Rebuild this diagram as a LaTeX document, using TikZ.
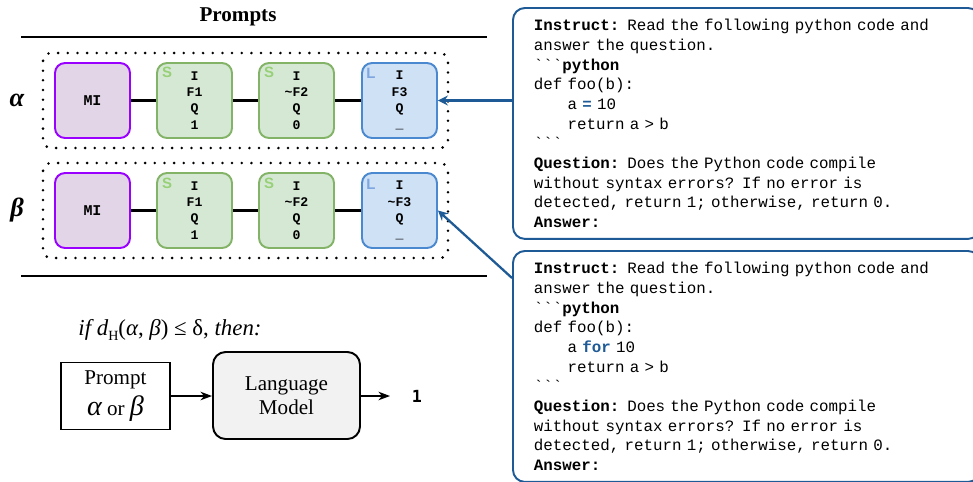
\documentclass[tikz,border=0pt]{standalone}
\usepackage{fontspec}
\setmainfont{Liberation Serif}
\setsansfont{Liberation Sans}
\setmonofont{Liberation Mono}
\newfontfamily\digitfont{DejaVu Sans Mono}
\usetikzlibrary{arrows.meta}
\definecolor{miborder}{RGB}{153,0,255}
\definecolor{mifill}{RGB}{225,213,231}
\definecolor{sborder}{RGB}{130,179,102}
\definecolor{sfill}{RGB}{213,232,212}
\definecolor{lborder}{RGB}{74,137,208}
\definecolor{lfill}{RGB}{207,225,245}
\definecolor{stagc}{RGB}{151,208,119}
\definecolor{ltagc}{RGB}{126,166,224}
\definecolor{codeblue}{RGB}{29,90,150}
\definecolor{lmfill}{RGB}{242,242,242}
\newcommand{\ticks}{\textasciigrave\textasciigrave\textasciigrave}
\newcommand{\ind}{\hphantom{def }}
\begin{document}
\begin{tikzpicture}[x=0.02cm,y=-0.02cm,
	blk/.style={rounded corners=0.2cm,line width=1.1pt,minimum width=1.5cm,minimum height=1.5cm,inner sep=0pt,align=center,font=\fontsize{7.5}{9.2}\selectfont\ttfamily\bfseries},
	mibox/.style={blk,draw=miborder,fill=mifill,font=\fontsize{8.5}{10}\selectfont\ttfamily\bfseries},
	sbox/.style={blk,draw=sborder,fill=sfill},
	lbox/.style={blk,draw=lborder,fill=lfill},
	stag/.style={text=stagc,inner sep=0pt,font=\fontsize{8.5}{9}\selectfont\sffamily\bfseries},
	ltag/.style={stag,text=ltagc},
	frame/.style={line width=1.6pt,dash pattern=on 0pt off 5.5pt,line cap=round,rounded corners=0.16cm},
	link/.style={line width=1.2pt},
	codebox/.style={draw=codeblue,line width=1.1pt,rounded corners=0.24cm,anchor=north west,minimum height=4.62cm,text width=8.5cm,inner xsep=0.42cm,align=left,font=\fontsize{9}{11.2}\selectfont\ttfamily},
	codearrow/.style={draw=codeblue,line width=1.3pt,-{Stealth[length=2mm,width=2mm,inset=0.7mm]}},
	flow/.style={line width=1pt,-{Stealth[length=2.3mm,width=1.7mm,inset=0.7mm]}}]
	\useasboundingbox (0,0) rectangle (973,481);
	\clip (0,0) rectangle (973,481);
	\node[font=\fontsize{12}{14}\selectfont\bfseries] (title) at (238,17) {Prompts};
	\draw[line width=1pt] (21,37) -- (487,37);
	\draw[line width=1pt] (21,276) -- (487,276);
	\draw[frame] (43,53) rectangle (448,148);
	\draw[frame] (43,163) rectangle (448,258);
	\node (alab) at (17,100) {\fontsize{15}{15}\selectfont\bfseries\itshape α};
	\node (blab) at (17,210) {\fontsize{15}{15}\selectfont\bfseries\itshape β};
	\node[mibox] (aMI) at (92.5,100.5) {MI};
	\node[sbox] (aS1) at (194.5,100.5) {I\\F1\\Q\\1};
	\node[sbox] (aS2) at (296.5,100.5) {I\\\textasciitilde F2\\Q\\0};
	\node[lbox] (aL) at (399.5,100.5) {I\\F3\\Q\\\_};
	\node[mibox] (bMI) at (92.5,210.5) {MI};
	\node[sbox] (bS1) at (194.5,210.5) {I\\F1\\Q\\1};
	\node[sbox] (bS2) at (296.5,210.5) {I\\\textasciitilde F2\\Q\\0};
	\node[lbox] (bL) at (399.5,210.5) {I\\\textasciitilde F3\\Q\\\_};
	\node[stag] (aS1t) at (167,72) {S};
	\node[stag] (aS2t) at (269,72) {S};
	\node[ltag] (aLt) at (371,73) {L};
	\node[stag] (bS1t) at (167,183) {S};
	\node[stag] (bS2t) at (269,183) {S};
	\node[ltag] (bLt) at (371,184) {L};
	\draw[link] (aMI) -- (aS1) -- (aS2) -- (aL);
	\draw[link] (bMI) -- (bS1) -- (bS2) -- (bL);
	\node[codebox] (codeA) at (512,7) {\textbf{Instruct:} Read the following python code and\\
		answer the question.\\
		\ticks\textbf{python}\\
		def foo(b):\\
		\ind a \textcolor{codeblue}{\textbf{=}} 10\\
		\ind return a > b\\
		\ticks\\
		\textbf{Question:} Does the Python code compile\\
		without syntax errors? If no error is\\
		detected, return 1; otherwise, return 0.\\
		\textbf{Answer:}};
	\node[codebox] (codeB) at (512,250) {\textbf{Instruct:} Read the following python code and\\
		answer the question.\\
		\ticks\textbf{python}\\
		def foo(b):\\
		\ind a \textcolor{codeblue}{\textbf{for}} 10\\
		\ind return a > b\\
		\ticks\\
		\textbf{Question:} Does the Python code compile\\
		without syntax errors? If no error is\\
		detected, return 1; otherwise, return 0.\\
		\textbf{Answer:}};
	\draw[codearrow] (codeA.west |- aL.east) -- (aL.east);
	\draw[codearrow] ([yshift=-0.56cm]codeB.north west) -- (bL.east);
	\node[font=\fontsize{13}{15}\selectfont] (cond) at (170,330) {\textit{if d}\raisebox{-0.45ex}{\fontsize{8}{8}\selectfont H}(\textit{α}, \textit{β}) ≤ δ, \textit{then:}};
	\node[draw,line width=1pt,minimum width=2.18cm,minimum height=1.34cm,align=center,font=\fontsize{12}{18}\selectfont] (prm) at (115.5,396) {Prompt\\{\fontsize{16}{16}\selectfont\itshape α} or {\fontsize{16}{16}\selectfont\itshape β}};
	\node[draw,fill=lmfill,line width=1.1pt,rounded corners=0.25cm,minimum width=2.94cm,minimum height=1.74cm,align=center,font=\fontsize{12}{14}\selectfont] (lm) at (286.5,395.5) {Language\\Model};
	\coordinate (outp) at (390,396);
	\node[font=\digitfont\bfseries\fontsize{9.5}{10}\selectfont] (one) at (417,396) {1};
	\draw[flow] (prm) -- (prm -| lm.west);
	\draw[flow] (prm -| lm.east) -- (outp);
\end{tikzpicture}
\end{document}
